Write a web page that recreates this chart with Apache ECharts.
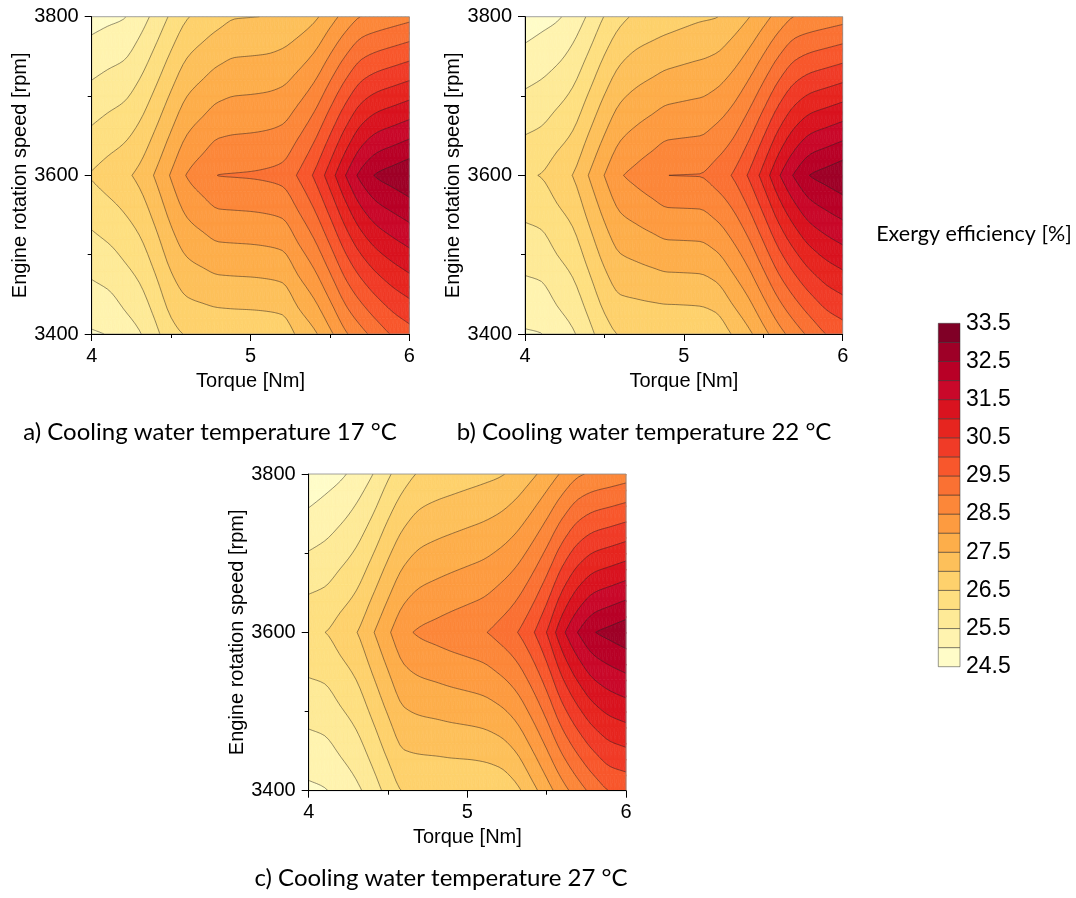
<!DOCTYPE html>
<html>
<head>
<meta charset="utf-8">
<script src="https://cdn.jsdelivr.net/npm/echarts@6/dist/echarts.min.js"></script>
<style>
html,body{margin:0;padding:0;background:#ffffff;}
#chart{width:1076px;height:898px;}
</style>
</head>
<body>
<div id="chart"></div>
<script>
// ---------------- data ----------------
const torque = [4.0,4.1,4.2,4.3,4.4,4.5,4.6,4.7,4.8,4.9,5.0,5.1,5.2,5.3,5.4,5.5,5.6,5.7,5.8,5.9,6.0];
const speeds = [3400, 3600, 3800];

// Exergy efficiency [%], cooling water 17 °C
const eff17_3400 = [24.95,25.02,25.24,25.46,25.86,26.32,26.53,26.57,26.60,26.62,26.63,26.65,26.70,27.09,27.41,27.89,28.44,28.85,29.23,29.57,29.80];
const eff17_3600 = [26.55,26.72,26.88,27.13,27.55,28.05,28.53,28.79,29.01,29.03,29.05,29.09,29.17,29.55,30.06,30.75,31.51,32.17,32.57,32.75,32.93];
const eff17_3800 = [24.80,24.89,24.97,25.26,25.65,26.08,26.46,26.66,26.83,26.97,26.99,27.01,27.08,27.20,27.40,27.79,28.19,28.52,28.64,28.75,28.86];

// cooling water 22 °C
const eff22_3400 = [24.95,24.99,25.22,25.44,25.83,26.27,26.52,26.53,26.54,26.54,26.55,26.57,26.65,27.01,27.36,27.83,28.32,28.75,29.15,29.52,29.72];
const eff22_3600 = [26.44,26.52,26.77,27.01,27.51,28.01,28.45,28.65,28.83,28.999,29.01,29.02,29.22,29.51,30.01,30.69,31.46,32.08,32.53,32.71,32.89];
const eff22_3800 = [24.71,24.83,24.94,25.19,25.57,26.02,26.37,26.57,26.67,26.76,26.85,26.93,26.98,27.18,27.45,27.81,28.20,28.52,28.62,28.71,28.80];

// cooling water 27 °C
const eff27_3400 = [24.90,24.97,25.16,25.39,25.74,26.17,26.52,26.53,26.53,26.54,26.54,26.56,26.62,26.85,27.29,27.78,28.30,28.77,29.19,29.52,29.62];
const eff27_3600 = [26.44,26.495,26.73,26.98,27.44,27.92,28.37,28.57,28.67,28.77,28.86,28.96,29.17,29.44,29.88,30.51,31.38,32.03,32.48,32.66,32.83];
const eff27_3800 = [24.61,24.77,24.92,25.16,25.48,25.92,26.29,26.55,26.66,26.73,26.80,26.87,26.95,27.12,27.38,27.70,28.08,28.43,28.58,28.67,28.77];

// contour levels and band colours (bottom -> top)
const levels = [24.5,25.0,25.5,26.0,26.5,27.0,27.5,28.0,28.5,29.0,29.5,30.0,30.5,31.0,31.5,32.0,32.5,33.0,33.5];
const bandColors = ['#FFFCC8','#FFF3AF','#FEEA97','#FEDF80','#FED16C','#FDC05A','#FDAE4A','#FD9B40','#FC8739',
                    '#FA7133','#F8572C','#F03B27','#E6251F','#D9131F','#C9082A','#B80026','#9E0027','#800026'];

const captions = ['a) Cooling water temperature 17 °C','b) Cooling water temperature 22 °C','c) Cooling water temperature 27 °C'];
const xName = 'Torque [Nm]';
const yName = 'Engine rotation speed [rpm]';
const cbName = 'Exergy efficiency [%]';

// ---------------- helpers ----------------
// each cell: [T0, T1, N0, N1, f(T0,N0), f(T1,N0), f(T0,N1), f(T1,N1),
//             f(T-1,N0), f(T2,N0), f(T-1,N1), f(T2,N1)]  (neighbours for smooth rendering)
function buildCells(rows){
  const out = [];
  const n = torque.length;
  for (let j = 0; j < speeds.length - 1; j++) {
    for (let i = 0; i < n - 1; i++) {
      const r0 = rows[j], r1 = rows[j+1];
      out.push([torque[i], torque[i+1], speeds[j], speeds[j+1],
                r0[i], r0[i+1], r1[i], r1[i+1],
                i > 0 ? r0[i-1] : null, i + 2 < n ? r0[i+2] : null,
                i > 0 ? r1[i-1] : null, i + 2 < n ? r1[i+2] : null]);
    }
  }
  return out;
}
function tangent(prev, cur, next, h){
  const hasL = prev !== null && !isNaN(prev), hasR = next !== null && !isNaN(next);
  const dl = hasL ? (cur - prev) / h : null;
  const dr = hasR ? (next - cur) / h : null;
  if (!hasL) return dr;
  if (!hasR) return dl;
  if (dl * dr <= 0) return 0;
  return 2 * dl * dr / (dl + dr);
}
function hermite(f0, f1, m0, m1, h, t){
  const t2 = t*t, t3 = t2*t;
  return (2*t3 - 3*t2 + 1)*f0 + (t3 - 2*t2 + t)*h*m0 + (-2*t3 + 3*t2)*f1 + (t3 - t2)*h*m1;
}
function clip(pts, vals, L, above){
  const oP = [], oV = [];
  const n = pts.length;
  for (let i = 0; i < n; i++) {
    const p = pts[i], v = vals[i], q = pts[(i+1)%n], w = vals[(i+1)%n];
    const inP = above ? v >= L : v <= L;
    const inQ = above ? w >= L : w <= L;
    if (inP) { oP.push(p); oV.push(v); }
    if (inP !== inQ) {
      const t = (L - v) / (w - v);
      oP.push([p[0] + (q[0]-p[0])*t, p[1] + (q[1]-p[1])*t]); oV.push(L);
    }
  }
  return [oP, oV];
}
function triangle(P, F, fills, lines){
  const fmin = Math.min(F[0],F[1],F[2]), fmax = Math.max(F[0],F[1],F[2]);
  for (let b = 0; b < bandColors.length; b++) {
    const lo = b === 0 ? -1e9 : levels[b];
    const hi = b === bandColors.length-1 ? 1e9 : levels[b+1];
    if (hi < fmin || lo > fmax) continue;
    const r1 = clip(P, F, lo, true); if (r1[0].length < 3) continue;
    const r2 = clip(r1[0], r1[1], hi, false); if (r2[0].length < 3) continue;
    fills.push({type:'polygon', silent:true, z2:1, shape:{points:r2[0]},
      style:{fill:bandColors[b], stroke:bandColors[b], lineWidth:0.7}});
  }
  for (let k = 1; k < levels.length - 1; k++) {
    const L = levels[k];
    if (!(fmin < L && L < fmax)) continue;
    const pts = [];
    for (let e = 0; e < 3; e++) {
      const i = e, j = (e+1)%3;
      if ((F[i] < L) !== (F[j] < L)) {
        const t = (L - F[i]) / (F[j] - F[i]);
        pts.push([P[i][0] + (P[j][0]-P[i][0])*t, P[i][1] + (P[j][1]-P[i][1])*t]);
      }
    }
    if (pts.length === 2) {
      lines.push({type:'line', silent:true, z2:10,
        shape:{x1:pts[0][0], y1:pts[0][1], x2:pts[1][0], y2:pts[1][1]},
        style:{stroke:'rgba(35,35,35,0.75)', lineWidth:0.65}});
    }
  }
}
function renderCell(params, api){
  const T0 = api.value(0), T1 = api.value(1), N0 = api.value(2), N1 = api.value(3);
  const f00 = api.value(4), f10 = api.value(5), f01 = api.value(6), f11 = api.value(7);
  const p0 = api.value(8), q0 = api.value(9), p1 = api.value(10), q1 = api.value(11);
  const h = T1 - T0;
  const m00 = tangent(p0, f00, f10, h), m10 = tangent(f00, f10, q0, h);
  const m01 = tangent(p1, f01, f11, h), m11 = tangent(f01, f11, q1, h);
  const NU = 4, NV = 10;
  const fills = [], lines = [];
  const row0 = [], row1 = [], tv = [];
  for (let a = 0; a <= NU; a++) {
    const t = a / NU;
    tv.push(T0 + h*t);
    row0.push(hermite(f00, f10, m00, m10, h, t));
    row1.push(hermite(f01, f11, m01, m11, h, t));
  }
  for (let a = 0; a < NU; a++) {
    for (let s = 0; s < NV; s++) {
      const v0 = s / NV, v1 = (s+1) / NV;
      const na = N0 + (N1-N0)*v0, nb = N0 + (N1-N0)*v1;
      const P = [api.coord([tv[a], na]), api.coord([tv[a+1], na]), api.coord([tv[a+1], nb]), api.coord([tv[a], nb])];
      const F = [row0[a] + (row1[a]-row0[a])*v0, row0[a+1] + (row1[a+1]-row0[a+1])*v0,
                 row0[a+1] + (row1[a+1]-row0[a+1])*v1, row0[a] + (row1[a]-row0[a])*v1];
      triangle([P[0],P[1],P[2]], [F[0],F[1],F[2]], fills, lines);
      triangle([P[0],P[2],P[3]], [F[0],F[2],F[3]], fills, lines);
    }
  }
  return {type:'group', children: fills.concat(lines)};
}

// ---------------- layout ----------------
const panels = [
  {left:91.7, top:16.7, width:317.6, height:317.3, rows:[eff17_3400, eff17_3600, eff17_3800]},
  {left:525.0, top:16.7, width:317.7, height:317.3, rows:[eff22_3400, eff22_3600, eff22_3800]},
  {left:308.7, top:474.0, width:317.3, height:316.7, rows:[eff27_3400, eff27_3600, eff27_3800]}
];
const axisFont = 'Liberation Sans, Arial, sans-serif';
const capFont = 'Lato, "Open Sans", sans-serif';

const grids = [], xAxes = [], yAxes = [], series = [];
panels.forEach((p, k) => {
  grids.push({left:p.left, top:p.top, width:p.width, height:p.height, show:true,
    backgroundColor:'transparent', borderColor:'#8a8a8a', borderWidth:0.8, z:4, containLabel:false});
  xAxes.push({gridIndex:k, type:'value', min:4, max:6, interval:1, z:6,
    name:xName, nameLocation:'middle', nameGap:37,
    nameTextStyle:{fontFamily:axisFont, fontSize:20, color:'#000'},
    axisLine:{show:true, onZero:false, lineStyle:{color:'#000', width:1}},
    axisTick:{show:true, inside:false, length:7, lineStyle:{color:'#000', width:1}},
    minorTick:{show:true, splitNumber:2, length:4, lineStyle:{color:'#000', width:1}},
    splitLine:{show:false}, minorSplitLine:{show:false},
    axisLabel:{fontFamily:axisFont, fontSize:20, color:'#000', margin:12, formatter: v => String(v)}});
  yAxes.push({gridIndex:k, type:'value', min:3400, max:3800, interval:200, z:6,
    name:yName, nameLocation:'middle', nameGap:51, nameRotate:90,
    nameTextStyle:{fontFamily:axisFont, fontSize:20, color:'#000'},
    axisLine:{show:true, onZero:false, lineStyle:{color:'#000', width:1}},
    axisTick:{show:true, inside:false, length:7, lineStyle:{color:'#000', width:1}},
    minorTick:{show:true, splitNumber:2, length:4, lineStyle:{color:'#000', width:1}},
    splitLine:{show:false}, minorSplitLine:{show:false},
    axisLabel:{fontFamily:axisFont, fontSize:20, color:'#000', margin:13, formatter: v => String(v)}});
  series.push({type:'custom', coordinateSystem:'cartesian2d', xAxisIndex:k, yAxisIndex:k,
    z:2, clip:true, silent:true, progressive:0,
    encode:{x:[0,1], y:[2,3]},
    data: buildCells(p.rows), renderItem: renderCell});
});

// colour bar
const cbBands = bandColors.map((c, i) => [levels[i], levels[i+1], i]);
grids.push({left:938.3, top:323.3, width:21.7, height:343.4, show:false});
xAxes.push({gridIndex:3, type:'value', min:0, max:1, show:false});
yAxes.push({gridIndex:3, type:'value', min:24.5, max:33.5, interval:1, position:'right',
  axisLine:{show:false}, axisTick:{show:false}, splitLine:{show:false},
  axisLabel:{fontFamily:axisFont, fontSize:23, color:'#000', margin:6,
    formatter: v => Number(v).toFixed(1)}});
series.push({type:'custom', coordinateSystem:'cartesian2d', xAxisIndex:3, yAxisIndex:3,
  silent:true, encode:{x:[], y:[0,1]}, data:cbBands,
  renderItem: function(params, api){
    const a = api.coord([0, api.value(1)]);
    const b = api.coord([1, api.value(0)]);
    return {type:'rect', shape:{x:a[0], y:a[1], width:b[0]-a[0], height:b[1]-a[1]},
      style:{fill:bandColors[api.value(2)], stroke:'rgba(40,40,40,0.6)', lineWidth:0.8}};
  }});

const chart = echarts.init(document.getElementById('chart'), null, {renderer:'canvas'});
chart.setOption({
  animation:false,
  backgroundColor:'#ffffff',
  grid:grids, xAxis:xAxes, yAxis:yAxes, series:series,
  graphic:[
    {type:'text', x:210, y:432, style:{text:captions[0], font:'24px ' + capFont, fill:'#000', align:'center', verticalAlign:'middle'}},
    {type:'text', x:644, y:432, style:{text:captions[1], font:'24px ' + capFont, fill:'#000', align:'center', verticalAlign:'middle'}},
    {type:'text', x:441, y:878, style:{text:captions[2], font:'24px ' + capFont, fill:'#000', align:'center', verticalAlign:'middle'}},
    {type:'text', x:974, y:234, style:{text:cbName, font:'21.5px ' + capFont, fill:'#000', align:'center', verticalAlign:'middle'}}
  ]
});
</script>
</body>
</html>
